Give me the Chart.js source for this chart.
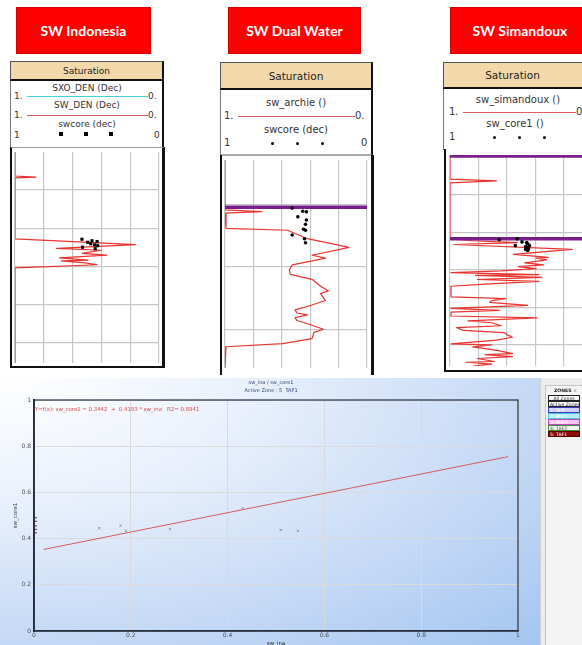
<!DOCTYPE html>
<html><head><meta charset="utf-8">
<script src="https://cdn.jsdelivr.net/npm/chart.js@4.4.1/dist/chart.umd.min.js"></script>
<style>
html,body{margin:0;padding:0;width:582px;height:645px;overflow:hidden;background:#fff;font-family:"DejaVu Sans",sans-serif;position:relative;}
body>*{position:absolute;}
.redbox{top:7px;height:47px;background:#ff0000;border:1px solid #d40000;color:#fff;font:bold 14px Lato,"Open Sans",sans-serif;display:flex;align-items:center;justify-content:center;box-sizing:border-box;}
.hdr{background:#f3d9a9;border:1px solid #555;border-bottom:2px solid #111;border-right:2px solid #111;box-sizing:border-box;display:flex;align-items:center;justify-content:center;color:#222;}
.leg{background:#fff;box-sizing:border-box;border-left:1px solid #777;border-right:2px solid #111;}
.lt{font-size:9px;color:#333;white-space:nowrap;line-height:11px;}
.c{transform:translateX(-50%);}
.ln{height:1px;}
.sq{width:4px;height:4px;background:#000;}
.dot{width:3px;height:3px;border-radius:50%;background:#000;}
.frame{box-sizing:border-box;pointer-events:none;}
.z{left:548px;width:32px;height:6px;font-size:4.6px;line-height:5px;box-sizing:border-box;padding-left:1px;white-space:nowrap;overflow:hidden;color:#222;}
.st{font-size:5px;line-height:6px;color:#2d4470;white-space:pre;}
</style>
</head><body>

<!-- titles -->
<div class="redbox" style="left:16px;width:135px;">SW Indonesia</div>
<div class="redbox" style="left:228px;width:133px;">SW Dual Water</div>
<div class="redbox" style="left:450px;width:140px;">SW Simandoux</div>

<!-- Track 1 header / legend -->
<div class="hdr" style="left:10px;top:61px;width:154px;height:20px;font-size:9px;">Saturation</div>
<div class="leg" style="left:10px;top:81px;width:154px;height:66px;"></div>
<div class="lt c" style="left:87px;top:83px;">SXO_DEN (Dec)</div>
<div class="lt" style="left:14px;top:91px;">1.</div>
<div class="lt" style="left:148px;top:91px;">0.</div>
<div class="ln" style="left:27px;top:96px;width:121px;background:#3fd3da;"></div>
<div class="lt c" style="left:87px;top:100px;">SW_DEN (Dec)</div>
<div class="lt" style="left:14px;top:110px;">1.</div>
<div class="lt" style="left:148px;top:110px;">0.</div>
<div class="ln" style="left:27px;top:115px;width:121px;background:#d86060;"></div>
<div class="lt c" style="left:87px;top:119px;">swcore (dec)</div>
<div class="sq" style="left:59px;top:132px;"></div>
<div class="sq" style="left:84px;top:132px;"></div>
<div class="sq" style="left:109px;top:132px;"></div>
<div class="lt" style="left:14px;top:130px;">1</div>
<div class="lt" style="left:154px;top:130px;">0</div>
<canvas id="t1" width="152" height="219" style="left:11px;top:148px;"></canvas>
<div class="frame" style="left:10px;top:147px;width:155px;height:221px;border-left:2px solid #111;border-right:3px solid #111;border-bottom:2px solid #111;border-top:1px solid #999;"></div>

<!-- Track 2 header / legend -->
<div class="hdr" style="left:220px;top:62px;width:153px;height:28px;font-size:10.5px;">Saturation</div>
<div class="leg" style="left:220px;top:90px;width:153px;height:66px;border-bottom:2px solid #aaa;"></div>
<div class="lt c" style="left:296px;top:97px;font-size:10px;">sw_archie ()</div>
<div class="lt" style="left:224px;top:110px;font-size:10px;">1.</div>
<div class="lt" style="left:355px;top:110px;font-size:10px;">0.</div>
<div class="ln" style="left:238px;top:116px;width:117px;background:#d86060;"></div>
<div class="lt c" style="left:296px;top:124px;font-size:10px;">swcore (dec)</div>
<div class="dot" style="left:271px;top:142px;"></div>
<div class="dot" style="left:296px;top:142px;"></div>
<div class="dot" style="left:321px;top:142px;"></div>
<div class="lt" style="left:224px;top:137px;font-size:10px;">1</div>
<div class="lt" style="left:361px;top:137px;font-size:10px;">0</div>
<canvas id="t2" width="150" height="216" style="left:221px;top:156px;"></canvas>
<div class="frame" style="left:220px;top:155px;width:154px;height:220px;border-left:2px solid #111;border-right:3px solid #111;"></div>

<!-- Track 3 header / legend -->
<div class="hdr" style="left:443px;top:62px;width:170px;height:27px;font-size:10.5px;padding-right:30px;">Saturation</div>
<div class="leg" style="left:443px;top:89px;width:170px;height:61px;border-right:none;"></div>
<div class="lt c" style="left:518px;top:94px;font-size:10px;">sw_simandoux ()</div>
<div class="lt" style="left:449px;top:106px;font-size:10px;">1.</div>
<div class="lt" style="left:576px;top:106px;font-size:10px;">0.</div>
<div class="ln" style="left:463px;top:112px;width:113px;background:#d86060;"></div>
<div class="lt c" style="left:515px;top:118px;font-size:10px;">sw_core1 ()</div>
<div class="dot" style="left:493px;top:136px;"></div>
<div class="dot" style="left:518px;top:136px;"></div>
<div class="dot" style="left:543px;top:136px;"></div>
<div class="lt" style="left:449px;top:131px;font-size:10px;">1</div>
<canvas id="t3" width="150" height="219" style="left:446px;top:151px;"></canvas>
<div class="frame" style="left:444px;top:149px;width:170px;height:223px;border-left:2px solid #111;border-bottom:2px solid #111;"></div>

<!-- Crossplot -->
<div style="left:0;top:378px;width:540px;height:267px;background:radial-gradient(ellipse farthest-corner at 0% 0%, #ffffff 0%, #eaf1fc 32%, #c6daf6 68%, #a4c5f0 100%);"></div>
<canvas id="xp" width="540" height="267" style="left:0;top:378px;"></canvas>
<div id="ttl1" class="st" style="left:271px;top:379px;transform:translateX(-50%);"></div>
<div id="ttl2" class="st" style="left:271px;top:387px;transform:translateX(-50%);"></div>
<div id="eq" class="st" style="left:35px;top:406px;color:#e04848;font-size:5.4px;"></div>

<!-- Zones panel -->
<div style="left:540px;top:378px;width:42px;height:267px;background:#ececec;border-left:1px solid #d0d0d0;box-sizing:border-box;"></div>
<div style="left:545px;top:385px;width:40px;height:262px;border:1px solid #c4c4c4;background:#f3f3f3;box-sizing:border-box;"></div>
<div class="z" style="top:388px;font-weight:bold;padding-left:6px;">ZONES <span style="color:#999">×</span></div>
<div class="z" style="top:395px;background:#fff;border:1px solid #222;text-align:center;padding:0;">All Zones</div>
<div class="z" style="top:401px;background:#fff;border:1px solid #222;">Active Zones</div>
<div class="z" style="top:407px;background:#cfd0f6;border:1px solid #3a3ac4;color:#fff;">1: SUP</div>
<div class="z" style="top:413px;background:#b4eef7;border:1px solid #4bc4d8;color:#fff;">2: BRF1</div>
<div class="z" style="top:419px;background:#f6c3f1;border:1px solid #c247c0;color:#fff;">3: BRF2</div>
<div class="z" style="top:425px;background:#eef6ea;border:1px solid #3c8a3c;color:#555;">4: TAF2</div>
<div class="z" style="top:431px;background:#8b0d0d;border:1px solid #5a0000;color:#fff;">5: TAF1</div>

<script>
// ---------- DATA ----------
const swGrid = [0, 0.2, 0.4, 0.6, 0.8, 1];

// Track 1 : SW Indonesia
const t1Range = [1000.0, 1055.4];
const t1DepthGrid = [1010, 1020, 1030, 1040, 1050];
const t1Depth = [1000.0, 1006.3, 1006.6, 1006.8, 1022.8, 1024.3, 1025.3, 1025.8, 1026.6, 1027.1, 1027.8, 1028.4, 1028.6, 1029.1, 1029.6, 1030.4, 1055.4];
const t1Sw    = [1.0, 1.0, 0.855, 1.0, 1.0, 0.164, 0.711, 0.401, 0.533, 0.362, 0.691, 0.493, 0.678, 0.513, 0.428, 1.0, 1.0];
const t1CoreDepth = [1022.9, 1025.0, 1023.7, 1023.3, 1024.4, 1023.5, 1025.4, 1024.1, 1024.6];
const t1CoreSw    = [0.535, 0.531, 0.495, 0.465, 0.447, 0.430, 0.443, 0.474, 0.426];
const t1Tops = [];

// Track 2 : SW Dual Water
const t2Range = [2002.9, 2036.2];
const t2DepthGrid = [2010, 2020, 2030];
const t2Depth = [2002.9, 2010.9, 2011.15, 2011.4, 2013.85, 2014.15, 2015.5, 2016.9, 2018.15, 2018.6, 2019.1, 2019.7, 2020.5, 2021.2, 2022.0, 2022.5, 2023.1, 2023.85, 2024.3, 2025.4, 2026.15, 2026.9, 2027.4, 2027.7, 2028.15, 2028.6, 2029.2, 2030.0, 2030.5, 2031.5, 2032.3, 2032.8, 2036.2];
const t2Sw    = [1.0, 1.0, 0.74, 1.0, 0.993, 0.56, 0.42, 0.127, 0.387, 0.293, 0.393, 0.527, 0.547, 0.54, 0.387, 0.36, 0.327, 0.273, 0.327, 0.293, 0.393, 0.507, 0.493, 0.42, 0.507, 0.493, 0.407, 0.307, 0.373, 0.387, 0.593, 0.993, 1.0];
const t2CoreDepth = [2010.6, 2011.1, 2011.2, 2012.0, 2012.5, 2013.2, 2014.0, 2014.15, 2014.9, 2015.5, 2016.15];
const t2CoreSw    = [0.527, 0.453, 0.427, 0.487, 0.427, 0.433, 0.447, 0.433, 0.527, 0.44, 0.433];
const t2Tops = [2010.46];

// Track 3 : SW Simandoux
const t3Range = [2999.5, 3055.6];
const t3DepthGrid = [3010, 3020, 3030, 3040, 3050];
const t3Depth = [2999.5, 3005.9, 3006.4, 3006.9, 3021.8, 3022.3, 3022.8, 3023.3, 3024.6, 3025.9, 3026.7, 3026.9, 3027.4, 3028.2, 3028.7, 3029.2, 3029.7, 3030.3, 3030.8, 3031.3, 3031.5, 3032.05, 3032.6, 3033.1, 3033.85, 3034.4, 3037.2, 3037.7, 3038.2, 3038.7, 3039.5, 3040.3, 3040.8, 3041.3, 3042.3, 3042.8, 3043.6, 3044.1, 3044.9, 3045.4, 3046.15, 3046.7, 3047.4, 3047.95, 3048.7, 3049.7, 3050.0, 3050.5, 3051.0, 3051.5, 3052.3, 3052.6, 3053.1, 3053.6, 3054.4, 3054.6, 3055.1, 3055.6];
const t3Sw    = [1.0, 1.0, 0.673, 1.0, 1.0, 0.84, 0.527, 0.973, 0.14, 0.553, 0.307, 0.393, 0.32, 0.473, 0.34, 0.52, 0.393, 0.64, 0.993, 0.373, 0.82, 0.353, 0.807, 0.373, 0.753, 0.993, 0.993, 0.607, 0.707, 0.72, 0.453, 0.993, 0.653, 0.993, 0.993, 0.387, 0.873, 0.707, 0.64, 0.953, 0.907, 0.62, 0.593, 0.56, 0.673, 0.993, 0.707, 0.84, 0.753, 0.66, 0.56, 0.753, 0.56, 0.807, 0.687, 0.887, 0.707, 0.84];
const t3CoreDepth = [3021.8, 3022.6, 3023.6, 3022.8, 3023.1, 3024.1, 3024.4, 3023.85, 3022.05, 3023.6, 3024.9, 3024.6];
const t3CoreSw    = [0.527, 0.493, 0.54, 0.46, 0.453, 0.46, 0.447, 0.467, 0.653, 0.44, 0.453, 0.467];
const t3Tops = [2999.75, 3021.8];

// Crossplot sw_ina vs sw_core1
const xpTitle = 'sw_ina / sw_core1';
const xpSubtitle = 'Active Zone : 5  TAF1';
const regIntercept = '0.3442', regSlope = '0.4193', regR2 = '0.8941';
const axisTicks = [0, 0.2, 0.4, 0.6, 0.8, 1];
const axisTickLabels = ['0', '0.2', '0.4', '0.6', '0.8', '1'];
const coreX = [0.135, 0.179, 0.190, 0.281, 0.431, 0.510, 0.545];
const coreY = [0.445, 0.456, 0.434, 0.441, 0.531, 0.438, 0.434];
const edgeX = [0.003, 0.003, 0.003, 0.003, 0.003];
const edgeY = [0.49, 0.475, 0.455, 0.44, 0.425];
const zeroX = [0.05, 0.07, 0.10, 0.13, 0.15, 0.17, 0.19, 0.21, 0.24, 0.27, 0.29, 0.31, 0.33, 0.35, 0.37, 0.39, 0.41, 0.43, 0.45, 0.47, 0.49, 0.51, 0.53, 0.55, 0.67, 0.93];
const regX = [0.02, 0.98];
const regY = [0.353, 0.755];

// ---------- CHARTS ----------
function fitArea(chart, L, T, R, B) {
  for (let k = 0; k < 3; k++) {
    const a = chart.chartArea, p = chart.options.layout.padding;
    p.left += L - a.left; p.top += T - a.top; p.right += a.right - R; p.bottom += a.bottom - B;
    chart.update('none');
  }
}
function track(id, depth, sw, coreD, coreSw, coreStyle, coreR, tops, range, grid) {
  const cv = document.getElementById(id);
  const datasets = [{
    data: coreD.map((d, i) => ({x: coreSw[i], y: d})),
    pointStyle: coreStyle, pointRadius: coreR, backgroundColor: '#000', borderColor: '#000', borderWidth: 0, showLine: false
  }];
  tops.forEach(t => datasets.push({data: [{x: 1, y: t}, {x: 0, y: t}], showLine: true, borderColor: '#7a1e8e', borderWidth: 3.5, pointRadius: 0}));
  datasets.push({data: depth.map((d, i) => ({x: sw[i], y: d})), showLine: true, borderColor: '#e8322e', borderWidth: 1.2, borderJoinStyle: 'round', pointRadius: 0});
  const ch = new Chart(cv, {
    type: 'scatter', data: {datasets},
    options: {
      responsive: false, animation: false, devicePixelRatio: 1, layout: {padding: {left: 0, top: 0, right: 0, bottom: 0}},
      plugins: {legend: {display: false}, tooltip: {enabled: false}},
      scales: {
        x: {type: 'linear', min: 0, max: 1, reverse: true,
            afterBuildTicks: s => { s.ticks = swGrid.map(v => ({value: v})); },
            ticks: {display: false}, grid: {color: '#c6c6c6', lineWidth: 1.2, drawTicks: false}, border: {display: false}},
        y: {type: 'linear', min: range[0], max: range[1], reverse: true,
            afterBuildTicks: s => { s.ticks = grid.map(v => ({value: v})); },
            ticks: {display: false}, grid: {color: '#c6c6c6', lineWidth: 1.2, drawTicks: false}, border: {display: false}}
      }
    }
  });
  fitArea(ch, 0, 0, cv.width, cv.height);
  return ch;
}
track('t1', t1Depth, t1Sw, t1CoreDepth, t1CoreSw, 'rect', 2.2, t1Tops, t1Range, t1DepthGrid);
track('t2', t2Depth, t2Sw, t2CoreDepth, t2CoreSw, 'circle', 1.8, t2Tops, t2Range, t2DepthGrid);
track('t3', t3Depth, t3Sw, t3CoreDepth, t3CoreSw, 'circle', 1.8, t3Tops, t3Range, t3DepthGrid);

document.getElementById('ttl1').textContent = xpTitle;
document.getElementById('ttl2').textContent = xpSubtitle;
document.getElementById('eq').textContent = 'Y=f(x): sw_core1 = ' + regIntercept + '  +  ' + regSlope + ' * sw_ina   R2= ' + regR2;

const framePlugin = {
  id: 'frame',
  afterDraw(c) {
    const a = c.chartArea, ctx = c.ctx;
    ctx.save(); ctx.strokeStyle = '#243044'; ctx.lineWidth = 1.2;
    ctx.strokeRect(a.left, a.top, a.right - a.left, a.bottom - a.top);
    ctx.restore();
  }
};
const tickFont = {family: 'DejaVu Sans', size: 6};
const xp = new Chart(document.getElementById('xp'), {
  type: 'scatter',
  data: {datasets: [
    {data: zeroX.map(x => ({x, y: 0})), pointStyle: 'line', pointRadius: 2.5, borderColor: '#4a4a4a', borderWidth: 1},
    {data: edgeX.map((x, i) => ({x, y: edgeY[i]})), pointStyle: 'line', pointRadius: 1.5, borderColor: '#6a1c1c', borderWidth: 1},
    {data: coreX.map((x, i) => ({x, y: coreY[i]})), pointStyle: 'crossRot', pointRadius: 1.8, borderColor: '#9c9c9c', borderWidth: 1},
    {data: regX.map((x, i) => ({x, y: regY[i]})), showLine: true, pointRadius: 0, borderColor: '#d65a5a', borderWidth: 1}
  ]},
  options: {
    responsive: false, animation: false, devicePixelRatio: 1,
    layout: {padding: {left: 10, right: 20, top: 20, bottom: 2}},
    plugins: {legend: {display: false}, tooltip: {enabled: false}},
    scales: {
      x: {type: 'linear', min: 0, max: 1,
          afterBuildTicks: s => { s.ticks = axisTicks.map(v => ({value: v})); },
          ticks: {callback: (v, i) => axisTickLabels[i], font: tickFont, color: '#505050', padding: 1, maxRotation: 0},
          grid: {color: '#dadada', drawTicks: false}, border: {color: '#1c2636', width: 1.5},
          title: {display: true, text: 'sw_ina', font: {family: 'DejaVu Sans', size: 5.5}, color: '#333', padding: 0}},
      y: {type: 'linear', min: 0, max: 1,
          afterBuildTicks: s => { s.ticks = axisTicks.map(v => ({value: v})); },
          ticks: {callback: (v, i) => axisTickLabels[i], font: tickFont, color: '#505050', padding: 3},
          grid: {color: '#dadada', drawTicks: false}, border: {color: '#1c2636', width: 1.8},
          title: {display: true, text: 'sw_core1', font: {family: 'DejaVu Sans', size: 5.5}, color: '#333', padding: 0}}
    }
  },
  plugins: [framePlugin]
});
// place the plot area: left 34, top 22, right 518, bottom 253 (canvas coords)
fitArea(xp, 34, 22, 518, 253);
</script>
</body></html>
